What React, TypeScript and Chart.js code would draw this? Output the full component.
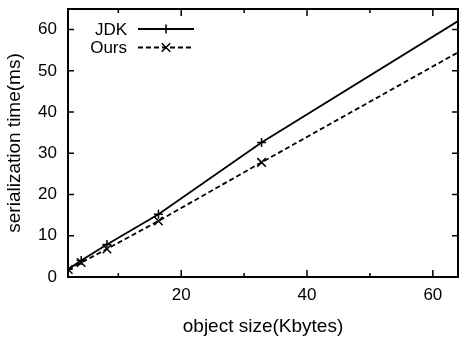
import React, { useEffect, useRef } from "react";
import { Chart, registerables } from "chart.js";

Chart.register(...registerables);

const seriesNames = ["JDK", "Ours"];
const objectSizesKB = [2.048, 4.096, 8.192, 16.384, 32.768, 65.536];
const jdkTimes = [1.9, 4.0, 7.9, 15.2, 32.6, 63.5];
const oursTimes = [1.8, 3.5, 6.8, 13.6, 27.8, 55.8];
const xMajorTicks = [20, 40, 60];
const xMinorTicks = [10, 30, 50];
const yTicks = [0, 10, 20, 30, 40, 50, 60];
const xRange = [2, 64];
const yRange = [0, 65];
const xTitle = "object size(Kbytes)";
const yTitle = "serialization time(ms)";

const FONT = "'Liberation Sans', Arial, Helvetica, sans-serif";

function drawMarker(ctx: CanvasRenderingContext2D, style: string, x: number, y: number, r: number) {
  ctx.beginPath();
  if (style === "cross") {
    ctx.moveTo(x - r, y);
    ctx.lineTo(x + r, y);
    ctx.moveTo(x, y - r);
    ctx.lineTo(x, y + r);
  } else {
    const o = r * Math.SQRT1_2;
    ctx.moveTo(x - o, y - o);
    ctx.lineTo(x + o, y + o);
    ctx.moveTo(x - o, y + o);
    ctx.lineTo(x + o, y - o);
  }
  ctx.setLineDash([]);
  ctx.stroke();
}

const framePlugin = {
  id: "gnuplotFrame",
  afterDatasetsDraw(chart: any) {
    const { ctx, chartArea: a, scales } = chart;
    const xs = scales.x;
    const ys = scales.y;
    ctx.save();
    ctx.strokeStyle = "#000";
    ctx.lineWidth = 1.5;
    ctx.beginPath();
    for (const v of yTicks) {
      const py = ys.getPixelForValue(v);
      ctx.moveTo(a.left, py);
      ctx.lineTo(a.left + 6, py);
      ctx.moveTo(a.right, py);
      ctx.lineTo(a.right - 6, py);
    }
    for (const v of xMajorTicks) {
      const px = xs.getPixelForValue(v);
      ctx.moveTo(px, a.bottom);
      ctx.lineTo(px, a.bottom - 7);
      ctx.moveTo(px, a.top);
      ctx.lineTo(px, a.top + 7);
    }
    for (const v of xMinorTicks) {
      const px = xs.getPixelForValue(v);
      ctx.moveTo(px, a.bottom);
      ctx.lineTo(px, a.bottom - 4);
      ctx.moveTo(px, a.top);
      ctx.lineTo(px, a.top + 4);
    }
    ctx.stroke();
    ctx.lineWidth = 2;
    ctx.strokeRect(a.left, a.top, a.right - a.left, a.bottom - a.top);

    // gnuplot-style legend
    const rows = [29, 47.5];
    ctx.font = `17px ${FONT}`;
    ctx.fillStyle = "#000";
    ctx.textAlign = "right";
    ctx.textBaseline = "middle";
    chart.data.datasets.forEach((ds: any, i: number) => {
      const y = rows[i];
      ctx.fillText(ds.label, 127, y + 1);
      ctx.lineWidth = ds.borderWidth;
      ctx.setLineDash(ds.borderDash || []);
      ctx.beginPath();
      ctx.moveTo(138, y);
      ctx.lineTo(194, y);
      ctx.stroke();
      ctx.lineWidth = ds.pointBorderWidth;
      drawMarker(ctx, ds.pointStyle, 166, y, ds.pointRadius);
    });
    ctx.restore();
  },
};

export default function App() {
  const ref = useRef<HTMLCanvasElement | null>(null);
  useEffect(() => {
    if (!ref.current) return;
    const chart = new Chart(ref.current, {
      type: "line",
      data: {
        datasets: [
          {
            label: seriesNames[0],
            data: objectSizesKB.map((x, i) => ({ x, y: jdkTimes[i] })),
            borderColor: "#000",
            backgroundColor: "#000",
            borderWidth: 1.8,
            pointStyle: "cross",
            pointRadius: 4.5,
            pointBorderWidth: 1.5,
            pointBorderColor: "#000",
            fill: false,
            tension: 0,
            clip: 0,
          } as any,
          {
            label: seriesNames[1],
            data: objectSizesKB.map((x, i) => ({ x, y: oursTimes[i] })),
            borderColor: "#000",
            backgroundColor: "#000",
            borderWidth: 1.8,
            borderDash: [5, 3],
            pointStyle: "crossRot",
            pointRadius: 6,
            pointBorderWidth: 1.5,
            pointBorderColor: "#000",
            fill: false,
            tension: 0,
            clip: 0,
          } as any,
        ],
      },
      options: {
        animation: false,
        responsive: false,
        maintainAspectRatio: false,
        layout: { autoPadding: false, padding: { top: 9, right: 1, left: 0, bottom: 0 } },
        plugins: { legend: { display: false }, tooltip: { enabled: false } },
        scales: {
          x: {
            type: "linear",
            min: xRange[0],
            max: xRange[1],
            grid: { display: false, drawTicks: false },
            border: { display: false },
            afterBuildTicks: (s: any) => {
              s.ticks = xMajorTicks.map((v) => ({ value: v }));
            },
            afterFit: (s: any) => {
              s.height = 62;
              s.paddingLeft = 0;
              s.paddingRight = 0;
              s.paddingTop = 0;
              s.paddingBottom = 0;
            },
            ticks: {
              padding: 8,
              color: "#000",
              font: { family: FONT, size: 17 },
              maxRotation: 0,
              autoSkip: false,
            },
            title: {
              display: true,
              text: xTitle,
              color: "#000",
              font: { family: FONT, size: 19 },
              padding: { top: 0, bottom: 1 },
            },
          },
          y: {
            type: "linear",
            min: yRange[0],
            max: yRange[1],
            grid: { display: false, drawTicks: false },
            border: { display: false },
            afterBuildTicks: (s: any) => {
              s.ticks = yTicks.map((v) => ({ value: v }));
            },
            afterFit: (s: any) => {
              s.width = 68;
              s.paddingLeft = 0;
              s.paddingRight = 0;
              s.paddingTop = 0;
              s.paddingBottom = 0;
            },
            ticks: {
              padding: 11,
              color: "#000",
              font: { family: FONT, size: 17 },
              autoSkip: false,
            },
            title: {
              display: true,
              text: yTitle,
              color: "#000",
              font: { family: FONT, size: 19 },
              padding: { top: 3, bottom: 0 },
            },
          },
        },
      },
      plugins: [framePlugin],
    });
    return () => chart.destroy();
  }, []);
  return (
    <div style={{ position: "fixed", left: 0, top: 0, width: 459, height: 339, background: "#fff" }}>
      <canvas ref={ref} width={459} height={339} style={{ display: "block" }} />
    </div>
  );
}
